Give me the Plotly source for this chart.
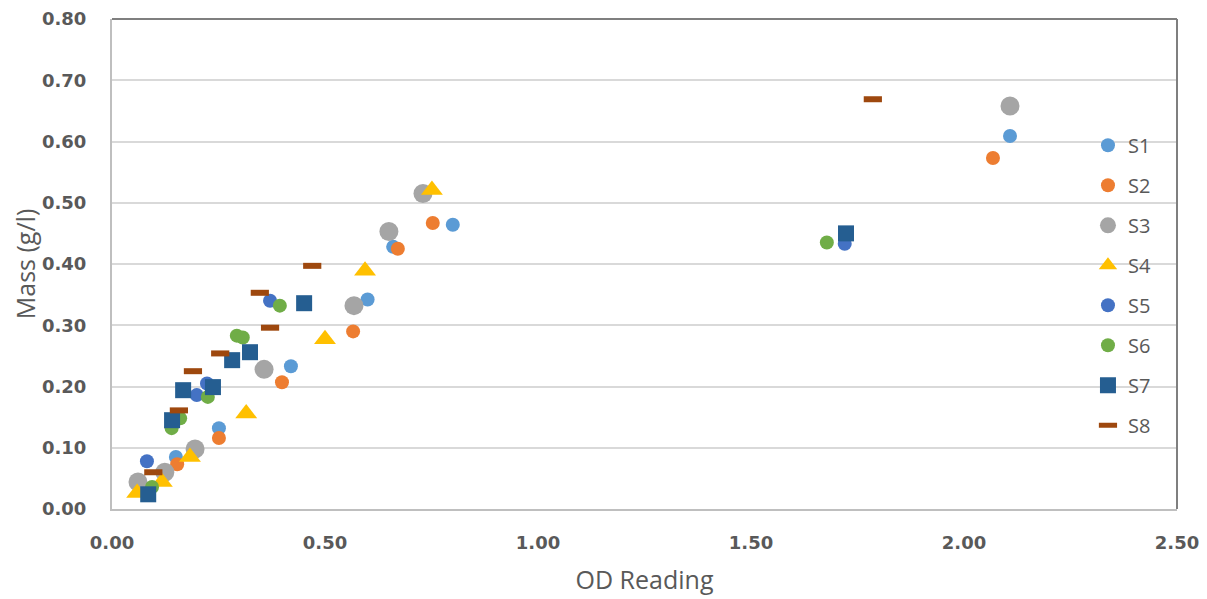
import plotly.graph_objects as go

# ---- data ----
s1_x = [2.108, 0.80, 0.66, 0.60, 0.42, 0.251, 0.15]
s1_y = [0.609, 0.464, 0.428, 0.342, 0.233, 0.132, 0.085]

s2_x = [2.068, 0.753, 0.671, 0.566, 0.399, 0.251, 0.153]
s2_y = [0.573, 0.467, 0.425, 0.290, 0.207, 0.116, 0.073]

s3_x = [2.108, 0.730, 0.650, 0.568, 0.357, 0.195, 0.124, 0.061]
s3_y = [0.658, 0.515, 0.453, 0.332, 0.228, 0.098, 0.060, 0.044]

s4_x = [0.751, 0.594, 0.500, 0.315, 0.183, 0.117, 0.059]
s4_y = [0.521, 0.389, 0.277, 0.156, 0.085, 0.044, 0.026]

s5_x = [1.720, 0.371, 0.223, 0.199, 0.082]
s5_y = [0.433, 0.340, 0.205, 0.186, 0.078]

s6_x = [1.678, 0.394, 0.293, 0.307, 0.225, 0.160, 0.140, 0.094]
s6_y = [0.435, 0.332, 0.283, 0.280, 0.183, 0.148, 0.132, 0.036]

s7_x = [1.723, 0.451, 0.324, 0.282, 0.237, 0.167, 0.141, 0.085]
s7_y = [0.450, 0.336, 0.256, 0.243, 0.199, 0.194, 0.145, 0.024]

s8_x = [1.786, 0.470, 0.347, 0.371, 0.254, 0.190, 0.157, 0.097]
s8_y = [0.669, 0.397, 0.353, 0.296, 0.254, 0.225, 0.161, 0.060]

names = ["S1", "S2", "S3", "S4", "S5", "S6", "S7", "S8"]
xs = [s1_x, s2_x, s3_x, s4_x, s5_x, s6_x, s7_x, s8_x]
ys = [s1_y, s2_y, s3_y, s4_y, s5_y, s6_y, s7_y, s8_y]
colors = ["#5B9BD5", "#ED7D31", "#A5A5A5", "#FFC000", "#4472C4", "#70AD47", "#255E91", "#9E480E"]
symbols = ["circle", "circle", "circle", "triangle-up", "circle", "circle", "square", "line-ew"]
sizes = [14, 14, 19, 19, 14, 14, 16, 13]

x_ticks = [0.0, 0.5, 1.0, 1.5, 2.0, 2.5]
y_ticks = [0.0, 0.1, 0.2, 0.3, 0.4, 0.5, 0.6, 0.7, 0.8]

fig = go.Figure()
for i, n in enumerate(names):
    if symbols[i] == "line-ew":
        marker = dict(symbol="line-ew", size=sizes[i], color=colors[i],
                      line=dict(color=colors[i], width=6))
    else:
        marker = dict(symbol=symbols[i], size=sizes[i], color=colors[i], line=dict(width=0))
    fig.add_trace(go.Scatter(x=xs[i], y=ys[i], mode="markers", name=n,
                             legendgroup=n, marker=marker))

fig.update_layout(
    width=1199, height=591,
    margin=dict(l=104, r=30, t=11, b=90, autoexpand=False),
    paper_bgcolor="white", plot_bgcolor="white",
    font=dict(family="Open Sans", color="#595959"),
    showlegend=True,
    legend=dict(x=0.9164, y=0.782, xanchor="left", yanchor="top",
                bgcolor="rgba(0,0,0,0)", font=dict(size=20, color="#595959"),
                tracegroupgap=11, itemwidth=30),
    xaxis=dict(range=[0, 2.5], tickvals=x_ticks, ticktext=[f"{v:.2f}" for v in x_ticks],
               showgrid=False, zeroline=False, showline=True, linecolor="#BFBFBF", linewidth=2,
               tickfont=dict(family="DejaVu Sans", size=18, color="#595959", weight="bold"),
               ticklabelstandoff=16, ticklabeloverflow="allow",
               title=dict(text="OD Reading", font=dict(size=25, color="#595959"), standoff=20)),
    yaxis=dict(range=[0, 0.8], tickvals=y_ticks, ticktext=[f"{v:.2f}" for v in y_ticks],
               showgrid=True, gridcolor="#D9D9D9", gridwidth=2, zeroline=False,
               showline=True, linecolor="#BFBFBF", linewidth=2,
               tickfont=dict(family="DejaVu Sans", size=18, color="#595959", weight="bold"),
               ticklabelstandoff=20, ticklabeloverflow="allow",
               title=dict(text="Mass (g/l)", font=dict(size=25, color="#595959"), standoff=11)),
)

# darker top/right frame edges
fig.add_shape(type="line", xref="paper", yref="paper", x0=0, x1=1, y0=1, y1=1,
              line=dict(color="#7F7F7F", width=2))
fig.add_shape(type="line", xref="paper", yref="paper", x0=1, x1=1, y0=0, y1=1,
              line=dict(color="#7F7F7F", width=2))

fig.write_html("out.html")
